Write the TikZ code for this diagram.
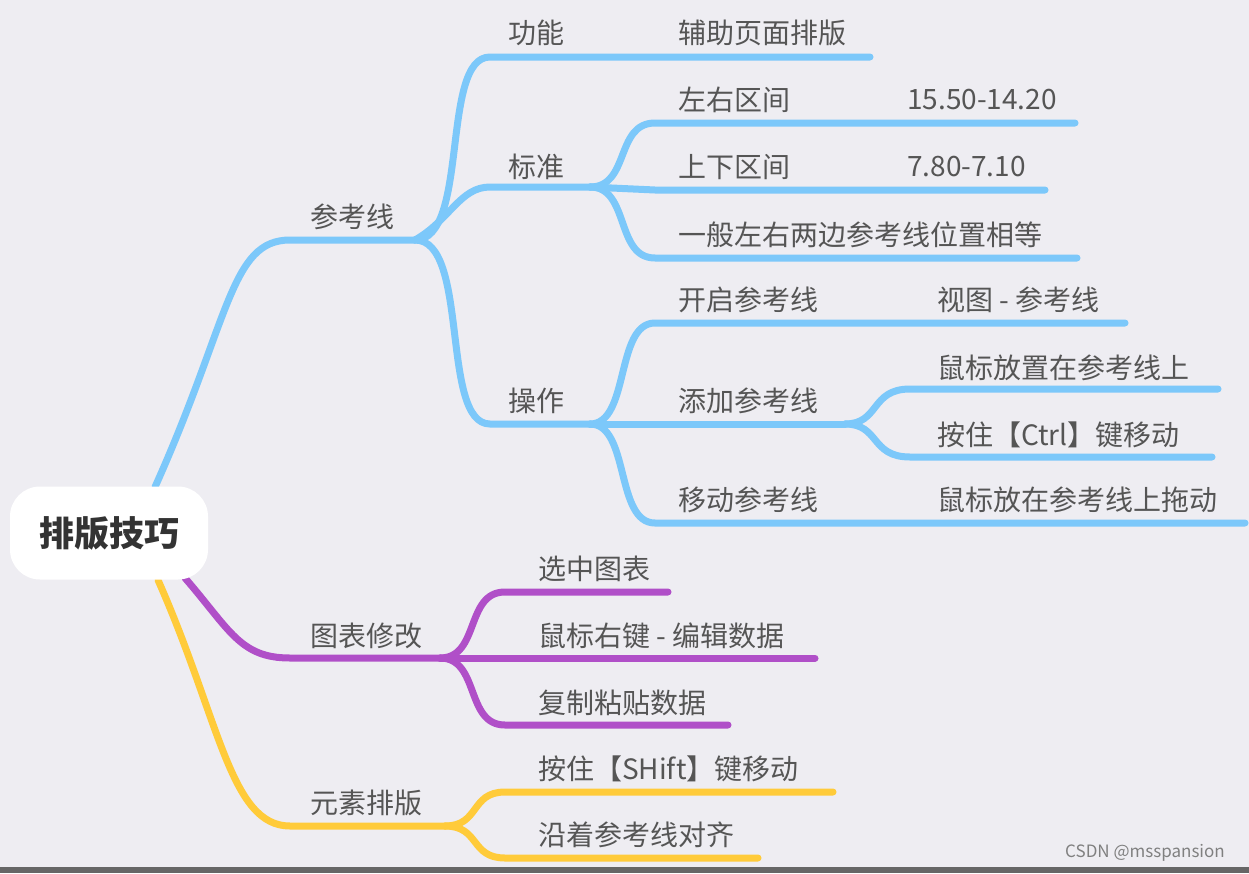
\documentclass[tikz,border=0pt]{standalone}
\usepackage{fontspec}
\newfontfamily\cjk{Noto Sans CJK SC}
\definecolor{bg}{RGB}{238,237,242}
\definecolor{cb}{RGB}{124,200,250}
\definecolor{cp}{RGB}{176,79,200}
\definecolor{cy}{RGB}{255,203,58}
\definecolor{tx}{RGB}{85,85,85}
\definecolor{rtx}{RGB}{51,51,51}
\begin{document}
\begin{tikzpicture}[x=1pt,y=-1pt,
 br/.style={line width=7pt,line cap=round},
 bbr/.style={br,draw=cb},
 pbr/.style={br,draw=cp},
 ybr/.style={br,draw=cy},
 lab/.style={font=\cjk\fontsize{28}{32}\selectfont,text=tx,inner sep=0pt,anchor=west}]
\fill[bg] (0,0) rectangle (1249,873);
\useasboundingbox (0,0) rectangle (1249,873);
\fill[gray!80!black] (0,867) rectangle (1249,873);
% coordinates
\coordinate (rt) at (155,487); \coordinate (rp) at (185,578); \coordinate (ry) at (158,580);
\coordinate (a0) at (290,240); \coordinate (a1) at (415,240);
\coordinate (g0) at (490,57); \coordinate (g1) at (870,57);
\coordinate (s0) at (490,187); \coordinate (s1) at (590,187);
\coordinate (o0) at (490,424); \coordinate (o1) at (590,424);
\coordinate (s10) at (655,123); \coordinate (s11) at (1075,123);
\coordinate (s20) at (655,190); \coordinate (s21) at (1045,190);
\coordinate (s30) at (655,258); \coordinate (s31) at (1077,258);
\coordinate (o10) at (655,323); \coordinate (o11) at (1125,323);
\coordinate (o20) at (655,424); \coordinate (o21) at (845,424);
\coordinate (o30) at (655,523); \coordinate (o31) at (1245,523);
\coordinate (t10) at (910,389); \coordinate (t11) at (1218,389);
\coordinate (t20) at (910,457); \coordinate (t21) at (1212,457);
\coordinate (p0) at (290,658); \coordinate (p1) at (440,658);
\coordinate (p10) at (505,592); \coordinate (p11) at (668,592);
\coordinate (p20) at (505,658); \coordinate (p21) at (815,658);
\coordinate (p30) at (505,725); \coordinate (p31) at (728,725);
\coordinate (y0) at (290,826); \coordinate (y1) at (445,826);
\coordinate (y10) at (505,792); \coordinate (y11) at (833,792);
\coordinate (y20) at (505,858); \coordinate (y21) at (758,858);
% blue
\draw[bbr] (rt) .. controls (230,320) and (230,240) .. (a0) -- (a1);
\draw[bbr] (a1) .. controls (470,240) and (440,57) .. (g0) -- (g1);
\draw[bbr] (a1) .. controls (450,220) and (460,187) .. (s0) -- (s1);
\draw[bbr] (a1) .. controls (470,240) and (440,424) .. (o0) -- (o1);
\draw[bbr] (s1) .. controls (630,187) and (615,123) .. (s10) -- (s11);
\draw[bbr] (s1) -- (s20) -- (s21);
\draw[bbr] (s1) .. controls (630,187) and (615,258) .. (s30) -- (s31);
\draw[bbr] (o1) .. controls (630,424) and (615,323) .. (o10) -- (o11);
\draw[bbr] (o1) -- (o20) -- (o21);
\draw[bbr] (o1) .. controls (630,424) and (615,523) .. (o30) -- (o31);
\draw[bbr] (o21) .. controls (880,424) and (870,389) .. (t10) -- (t11);
\draw[bbr] (o21) .. controls (880,424) and (870,457) .. (t20) -- (t21);
% purple
\draw[pbr] (rp) .. controls (230,630) and (240,658) .. (p0) -- (p1);
\draw[pbr] (p1) .. controls (480,658) and (465,592) .. (p10) -- (p11);
\draw[pbr] (p1) -- (p20) -- (p21);
\draw[pbr] (p1) .. controls (480,658) and (465,725) .. (p30) -- (p31);
% yellow
\draw[ybr] (ry) .. controls (220,720) and (230,826) .. (y0) -- (y1);
\draw[ybr] (y1) .. controls (480,826) and (470,792) .. (y10) -- (y11);
\draw[ybr] (y1) .. controls (480,826) and (470,858) .. (y20) -- (y21);
% root
\node[fill=white,rounded corners=30pt,minimum width=198pt,minimum height=93pt,
  font=\cjk\bfseries\fontsize{35}{40}\selectfont,text=rtx] (root) at (109,533) {排版技巧};
% labels
\node[lab] (la) at (310,217) {参考线};
\node[lab] (lg) at (508,33) {功能};
\node[lab] (lg2) at (678,33) {辅助页面排版};
\node[lab] (ls) at (508,167) {标准};
\node[lab] (lo) at (508,401) {操作};
\node[lab] (ls1) at (678,100) {左右区间};
\node[lab] (ls1b) at (907,100) {15.50-14.20};
\node[lab] (ls2) at (678,167) {上下区间};
\node[lab] (ls2b) at (907,167) {7.80-7.10};
\node[lab] (ls3) at (678,235) {一般左右两边参考线位置相等};
\node[lab] (lo1) at (678,300) {开启参考线};
\node[lab] (lo1b) at (937,300) {视图 - 参考线};
\node[lab] (lo2) at (678,401) {添加参考线};
\node[lab] (lo3) at (678,500) {移动参考线};
\node[lab] (lo3b) at (937,500) {鼠标放在参考线上拖动};
\node[lab] (lt1) at (937,368) {鼠标放置在参考线上};
\node[lab] (lt2) at (937,435) {按住【Ctrl】键移动};
\node[lab] (lp) at (310,636) {图表修改};
\node[lab] (lp1) at (538,569) {选中图表};
\node[lab] (lp2) at (538,636) {鼠标右键 - 编辑数据};
\node[lab] (lp3) at (538,703) {复制粘贴数据};
\node[lab] (ly) at (310,803) {元素排版};
\node[lab] (ly1) at (538,769) {按住【SHift】键移动};
\node[lab] (ly2) at (538,835) {沿着参考线对齐};
\node[font=\cjk\fontsize{17}{20}\selectfont,text=gray,inner sep=0pt] (wm) at (1145,853) {CSDN @msspansion};
\end{tikzpicture}
\end{document}
